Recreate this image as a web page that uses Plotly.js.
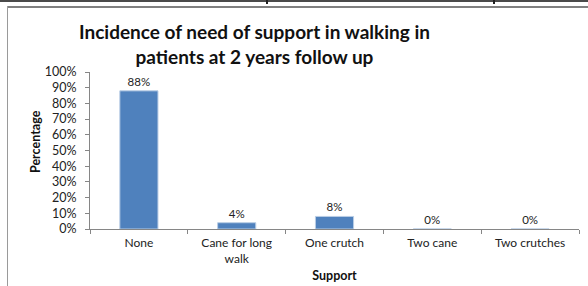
<!DOCTYPE html>
<html>
<head>
<meta charset="utf-8">
<script src="https://cdn.plot.ly/plotly-3.0.1.min.js"></script>
<style>
html,body{margin:0;padding:0;background:#fff;}
#wrap{position:relative;width:588px;height:286px;overflow:hidden;}
#chart{position:absolute;left:0;top:0;width:588px;height:286px;}
.ln{position:absolute;pointer-events:none;}
</style>
</head>
<body>
<div id="wrap">
<div id="chart"></div>
<div class="ln" style="left:0;top:0;width:588px;height:2px;background:#4a4a4a;"></div>
<div class="ln" style="left:266px;top:0;width:2px;height:4px;background:#222;"></div>
<div class="ln" style="left:493px;top:0;width:2px;height:4px;background:#222;"></div>
<div class="ln" style="left:7px;top:6px;width:581px;height:2px;background:#808080;"></div>
<div class="ln" style="left:7px;top:6px;width:1px;height:280px;background:#9a9a9a;"></div>
</div>
<script>
var categories = ["None", "Cane for long<br>walk", "One crutch", "Two cane", "Two crutches"];
var percentages = [0.88, 0.04, 0.08, 0.00, 0.00];
var valueLabels = ["88%", "4%", "8%", "0%", "0%"];
var yTickValues = [0, 0.1, 0.2, 0.3, 0.4, 0.5, 0.6, 0.7, 0.8, 0.9, 1.0];
var yTickLabels = ["0%", "10%", "20%", "30%", "40%", "50%", "60%", "70%", "80%", "90%", "100%"];
var titleText = "<b>Incidence of need of support in walking in<br>patients at 2 years follow up</b>";

var font = "Lato, 'Open Sans', sans-serif";

var trace = {
  type: "bar",
  x: categories,
  y: percentages,
  text: valueLabels,
  textposition: "outside",
  cliponaxis: false,
  textfont: {family: font, size: 11.5, color: "#222"},
  marker: {color: "#4F81BD", line: {color: "#B9CDE5", width: 1}},
  hoverinfo: "none"
};

var layout = {
  width: 588,
  height: 286,
  margin: {l: 90, r: 9, t: 72, b: 57},
  paper_bgcolor: "rgba(0,0,0,0)",
  plot_bgcolor: "rgba(0,0,0,0)",
  bargap: 0.61,
  showlegend: false,
  font: {family: font, color: "#222"},
  xaxis: {
    type: "category",
    showline: true,
    linecolor: "#868686",
    linewidth: 1,
    ticks: "outside",
    tickson: "boundaries",
    ticklen: 4,
    tickcolor: "#868686",
    ticklabelstandoff: 3,
    tickfont: {family: font, size: 12, color: "#222"},
    showgrid: false,
    zeroline: false,
    title: {text: "<b>Support</b>", font: {family: font, size: 12.5, color: "#111"}, standoff: 6}
  },
  yaxis: {
    range: [0, 1],
    tickvals: yTickValues,
    ticktext: yTickLabels,
    showline: true,
    linecolor: "#868686",
    linewidth: 1,
    ticks: "outside",
    ticklen: 4,
    tickcolor: "#868686",
    ticklabelstandoff: 6,
    tickfont: {family: font, size: 12.5, color: "#222"},
    showgrid: false,
    zeroline: false
  },
  annotations: [
    {text: titleText, xref: "paper", yref: "paper",
     x: (254 - 90) / 489, y: (229 - 44) / 157, xanchor: "center", yanchor: "middle", showarrow: false,
     font: {family: font, size: 19, color: "#111"}},
    {text: "<b>Percentage</b>", xref: "paper", yref: "paper", textangle: -90,
     x: (35 - 90) / 489, y: (229 - 142) / 157, xanchor: "center", yanchor: "middle", showarrow: false,
     font: {family: font, size: 12.5, color: "#111"}}
  ]
};

Plotly.newPlot("chart", [trace], layout, {staticPlot: true, displayModeBar: false});
</script>
</body>
</html>
